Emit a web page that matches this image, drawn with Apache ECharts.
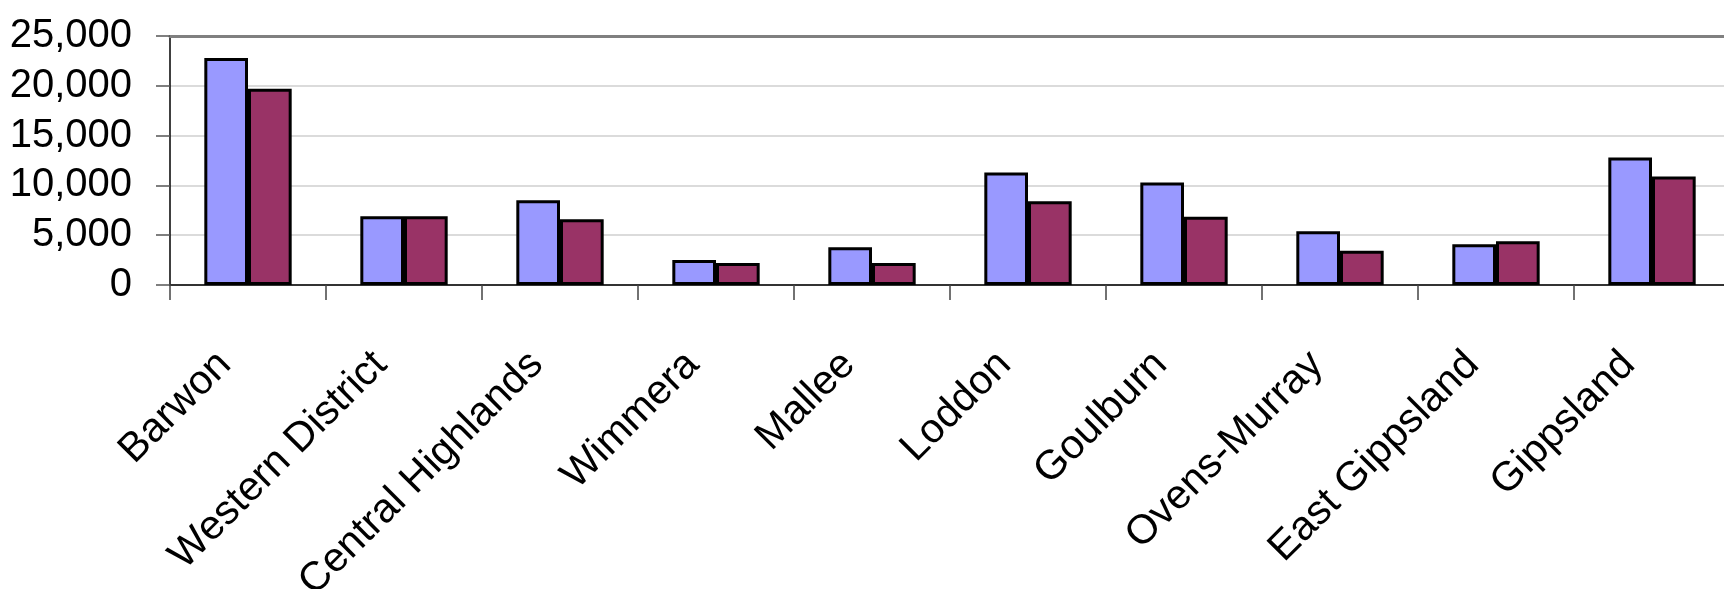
<!DOCTYPE html>
<html>
<head>
<meta charset="utf-8">
<script src="https://cdn.jsdelivr.net/npm/echarts@6/dist/echarts.min.js"></script>
<style>
  html, body { margin: 0; padding: 0; background: #fff; }
  #main { width: 1724px; height: 589px; }
</style>
</head>
<body>
<div id="main"></div>
<script>
const regions = ['Barwon', 'Western District', 'Central Highlands', 'Wimmera', 'Mallee',
  'Loddon', 'Goulburn', 'Ovens-Murray', 'East Gippsland', 'Gippsland']
const seriesA = [22800, 6900, 8500, 2500, 3800, 11300, 10300, 5400, 4100, 12800]
const seriesB = [19700, 6900, 6600, 2200, 2200, 8400, 6850, 3450, 4400, 10900]
const yTicks = [0, 5000, 10000, 15000, 20000, 25000]

// no narrow face installed, Liberation Sans is the closest
const font = "'Liberation Sans', Arial, sans-serif"

const chart = echarts.init(document.getElementById('main'))

const barStyle = color => ({
  color,
  borderColor: '#000',
  borderWidth: 3
})

chart.setOption({
  animation: false,
  grid: { left: 170, top: 36, width: 1560, height: 249, outerBoundsMode: 'none' },
  xAxis: [
    {
      type: 'category',
      data: regions,
      axisLine: { lineStyle: { color: '#333', width: 2 } },
      axisTick: { show: true, alignWithLabel: false, length: 15, lineStyle: { color: '#444', width: 1.5 } },
      axisLabel: {
        rotate: 45,
        interval: 0,
        margin: 50,
        padding: [0, 33, 0, 0],
        fontFamily: font,
        fontSize: 41,
        color: '#000'
      }
    },
    {
      type: 'category',
      position: 'top',
      data: regions,
      axisLine: { lineStyle: { color: '#808080', width: 3 } },
      axisTick: { show: false },
      axisLabel: { show: false }
    }
  ],
  yAxis: {
    type: 'value',
    min: 0,
    max: yTicks[yTicks.length - 1],
    interval: yTicks[1] - yTicks[0],
    axisLine: { show: true, lineStyle: { color: '#000', width: 1.5 } },
    axisTick: { show: true, length: 14, lineStyle: { color: '#555', width: 1.5 } },
    splitLine: { lineStyle: { color: '#cfcfcf', width: 1.5 } },
    axisLabel: {
      margin: 38,
      fontFamily: font,
      fontSize: 40,
      color: '#000',
      formatter: v => v.toLocaleString('en-US')
    }
  },
  series: [
    {
      type: 'bar',
      data: seriesA,
      barGap: '0%',
      barCategoryGap: '44%',
      itemStyle: barStyle('#9999ff')
    },
    {
      type: 'bar',
      data: seriesB,
      itemStyle: barStyle('#993366')
    }
  ]
})
</script>
</body>
</html>
